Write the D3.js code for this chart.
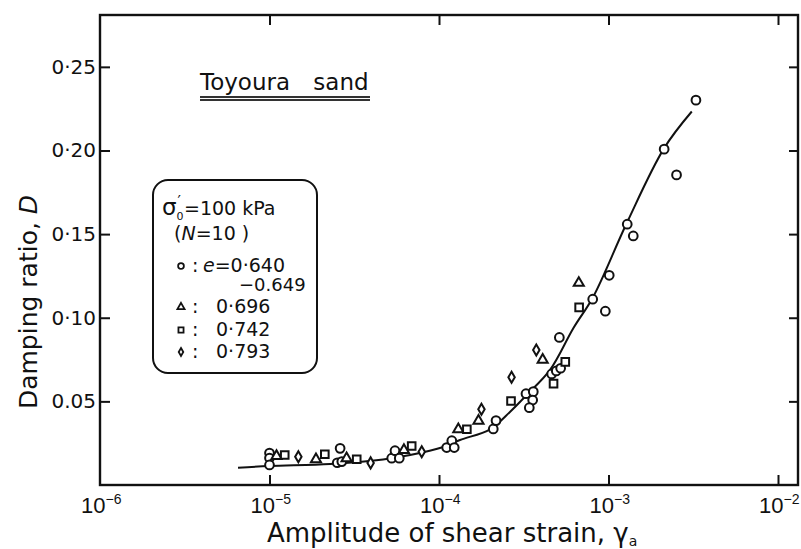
<!DOCTYPE html>
<html><head><meta charset="utf-8">
<script src="https://cdn.jsdelivr.net/npm/d3@7"></script>
<style>
body{margin:0;background:#fff}
svg{display:block}
text{font-family:"DejaVu Sans",sans-serif;fill:#111}
</style>
</head><body>
<svg id="chart" width="801" height="549"></svg>
<script>
// ---- data ----
const xDecades = [1e-6, 1e-5, 1e-4, 1e-3, 1e-2];
const xTickExp = ["−6", "−5", "−4", "−3", "−2"];
const yTicks = [0.05, 0.10, 0.15, 0.20, 0.25];
const yTickLabels = ["0.05", "0·10", "0·15", "0·20", "0·25"];

// e = 0.640-0.649 (circles)
const circleStrain = [1.0e-5,1.0e-5,1.0e-5,2.61e-5,2.51e-5,2.67e-5,5.26e-5,5.50e-5,5.83e-5,1.11e-4,1.19e-4,1.23e-4,2.09e-4,2.17e-4,3.26e-4,3.60e-4,3.57e-4,3.41e-4,4.62e-4,4.92e-4,5.22e-4,5.13e-4,8.07e-4,9.58e-4,1.01e-3,1.29e-3,1.40e-3,2.13e-3,2.52e-3,3.28e-3];
const circleD = [0.0191,0.0161,0.0120,0.0219,0.0133,0.0140,0.0160,0.0205,0.0160,0.0224,0.0265,0.0224,0.0335,0.0385,0.0546,0.0558,0.0508,0.0462,0.0664,0.0682,0.0698,0.0882,0.1111,0.1039,0.1254,0.1559,0.1489,0.2008,0.1854,0.2301];
// e = 0.696 (triangles)
const triStrain = [1.10e-5,1.88e-5,2.85e-5,6.21e-5,1.30e-4,1.71e-4,4.09e-4,6.68e-4];
const triD = [0.0173,0.0154,0.0160,0.0209,0.0333,0.0383,0.0748,0.1208];
// e = 0.742 (squares)
const sqStrain = [1.23e-5,2.12e-5,3.27e-5,6.90e-5,1.46e-4,2.66e-4,4.74e-4,5.56e-4,6.71e-4];
const sqD = [0.0179,0.0184,0.0154,0.0233,0.0333,0.0502,0.0606,0.0736,0.1062];
// e = 0.793 (diamonds)
const diaStrain = [1.48e-5,3.95e-5,7.91e-5,1.78e-4,2.68e-4,3.75e-4];
const diaD = [0.0169,0.0132,0.0199,0.0453,0.0644,0.0807];
// fitted curve
const curveStrain = [6.52e-6,1.0e-5,2.28e-5,4.68e-5,6.75e-5,1.06e-4,1.33e-4,2.0e-4,2.63e-4,3.29e-4,4.52e-4,6.2e-4,8.13e-4,1.28e-3,2.13e-3,3.10e-3];
const curveD = [0.0103,0.0114,0.0126,0.0153,0.0179,0.0227,0.0269,0.0333,0.0438,0.0538,0.0688,0.0937,0.1126,0.1565,0.2014,0.2233];

// ---- drawing ----
const svg = d3.select("#chart");
const L = 100, R = 798, T = 15, B = 485;
const x = d3.scaleLog().domain([1e-6, Math.pow(10, -1.882)]).range([L, R]);
const y = d3.scaleLinear().domain([0, 0.281]).range([B, T]);
const ink = "#111";

// frame
svg.append("rect").attr("x", L).attr("y", T).attr("width", R - L).attr("height", B - T)
  .attr("fill", "none").attr("stroke", ink).attr("stroke-width", 2.4);

// axes ticks (inward)
const axB = d3.axisBottom(x).tickValues(xDecades.slice(1)).tickSize(-10).tickFormat("");
const axT = d3.axisTop(x).tickValues(xDecades.slice(1)).tickSize(-10).tickFormat("");
const axL = d3.axisLeft(y).tickValues(yTicks).tickSize(-10).tickFormat("");
const axR = d3.axisRight(y).tickValues(yTicks).tickSize(-9).tickFormat("");
[[axB, `translate(0,${B})`], [axT, `translate(0,${T})`], [axL, `translate(${L},0)`], [axR, `translate(${R},0)`]]
  .forEach(([a, t]) => {
    const g = svg.append("g").attr("transform", t).call(a);
    g.select(".domain").remove();
    g.selectAll("line").attr("stroke", ink).attr("stroke-width", 2);
  });

// y tick labels
svg.append("g").selectAll("text").data(yTicks).join("text")
  .attr("x", L - 4).attr("y", d => y(d) + 7)
  .attr("text-anchor", "end").attr("font-size", 20)
  .text((d, i) => yTickLabels[i]);

// x tick labels 10^n
const xl = svg.append("g").selectAll("text").data(xDecades).join("text")
  .attr("x", d => x(d) - 19).attr("y", 513)
  .style("font-family", "'Liberation Sans',sans-serif").attr("font-size", 22);
xl.append("tspan").text("10");
xl.append("tspan").attr("dy", -9).attr("font-size", 14).text((d, i) => xTickExp[i]);

// axis titles
const xt = svg.append("text").attr("x", 267).attr("y", 542).attr("font-size", 26);
xt.append("tspan").text("Amplitude of shear strain, γ");
xt.append("tspan").attr("dy", 4).attr("font-size", 14).text("a");

const yt = svg.append("text").attr("transform", "translate(37,302) rotate(-90)")
  .attr("text-anchor", "middle").attr("font-size", 25);
yt.append("tspan").text("Damping ratio, ");
yt.append("tspan").attr("font-style", "italic").text("D");

// title
svg.append("text").attr("x", 200).attr("y", 90).attr("font-size", 23)
  .attr("word-spacing", 16).text("Toyoura sand");
svg.append("line").attr("x1", 200).attr("x2", 370).attr("y1", 97).attr("y2", 97)
  .attr("stroke", "#333").attr("stroke-width", 1.8);
svg.append("line").attr("x1", 200).attr("x2", 370).attr("y1", 100).attr("y2", 100)
  .attr("stroke", "#333").attr("stroke-width", 1.8);

// curve
svg.append("path")
  .datum(curveStrain.map((s, i) => [s, curveD[i]]))
  .attr("fill", "none").attr("stroke", ink).attr("stroke-width", 2)
  .attr("d", d3.line().x(d => x(d[0])).y(d => y(d[1])).curve(d3.curveCatmullRom.alpha(0.5)));

// markers
function drawSeries(xs, ys, type, size) {
  svg.append("g").selectAll("path").data(xs.map((s, i) => [s, ys[i]])).join("path")
    .attr("transform", d => `translate(${x(d[0])},${y(d[1])})`)
    .attr("d", d3.symbol().type(type).size(size))
    .attr("fill", "#fff").attr("stroke", ink).attr("stroke-width", 2);
}
drawSeries(circleStrain, circleD, d3.symbolCircle, 60);
drawSeries(triStrain, triD, d3.symbolTriangle, 44);
drawSeries(sqStrain, sqD, d3.symbolSquare, 58);
drawSeries(diaStrain, diaD, d3.symbolDiamond, 36);

// legend box
svg.append("rect").attr("x", 153).attr("y", 180).attr("width", 164).attr("height", 193)
  .attr("rx", 15).attr("fill", "#fff").attr("stroke", ink).attr("stroke-width", 2);

const lg = svg.append("g");
// sigma line (single text element)
const sg = lg.append("text").attr("x", 162).attr("y", 215);
sg.append("tspan").attr("font-size", 23).text("σ");
sg.append("tspan").attr("font-size", 11).attr("dy", 5).text("0");
sg.append("tspan").attr("font-size", 15).attr("dx", -6).attr("dy", -13).text("′");
sg.append("tspan").attr("font-size", 19).attr("dx", 3).attr("dy", 8).text("=100 kPa");
// (N=10)
const nl = lg.append("text").attr("x", 174).attr("y", 240).attr("font-size", 19);
nl.append("tspan").text("(");
nl.append("tspan").attr("font-style", "italic").text("N");
nl.append("tspan").text("=10 )");

const legendRows = [
  {type: d3.symbolCircle, size: 26, my: 266, ty: 272, label: "0·640", e: true},
  {type: d3.symbolTriangle, size: 22, my: 307, ty: 313, label: "0·696"},
  {type: d3.symbolSquare, size: 26, my: 330, ty: 336, label: "0·742"},
  {type: d3.symbolDiamond, size: 18, my: 352, ty: 358, label: "0·793"}
];
legendRows.forEach(r => {
  lg.append("path").attr("transform", `translate(181,${r.my})`)
    .attr("d", d3.symbol().type(r.type).size(r.size))
    .attr("fill", "#fff").attr("stroke", ink).attr("stroke-width", 1.8);
  lg.append("text").attr("x", 192).attr("y", r.ty).attr("font-size", 19).text(":");
  if (r.e) {
    const t = lg.append("text").attr("x", 203).attr("y", r.ty).attr("font-size", 19);
    t.append("tspan").attr("font-style", "italic").text("e");
    t.append("tspan").text("=" + r.label);
  } else {
    lg.append("text").attr("x", 216).attr("y", r.ty).attr("font-size", 19).text(r.label);
  }
});
lg.append("text").attr("x", 239).attr("y", 291).attr("font-size", 18).text("−0.649");
</script>
</body></html>
